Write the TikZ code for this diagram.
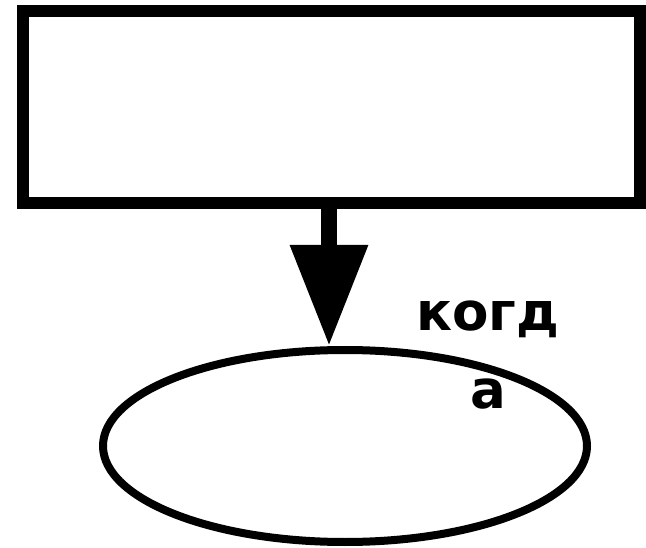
\documentclass[tikz,border=0pt]{standalone}
\usepackage{fontspec}
\newfontfamily\labelfont{DejaVu Sans}
\usetikzlibrary{shapes.geometric,arrows.meta}
\begin{document}
\begin{tikzpicture}[x=1pt,y=-1pt,
  boxstyle/.style={draw, line width=12pt, minimum width=617pt, minimum height=192pt, inner sep=0pt},
  ovalstyle/.style={draw, ellipse, line width=8pt, minimum width=484pt, minimum height=192pt, inner sep=0pt},
  flowarrow/.style={line width=16pt, -{Triangle[length=101pt,width=74pt]}},
  labelstyle/.style={font=\labelfont\bfseries\fontsize{53}{78}\selectfont, align=center, inner sep=0pt}]
\useasboundingbox (0,0) rectangle (646,548);
\node[boxstyle] (box) at (331.5,107) {};
\node[ovalstyle] (oval) at (345,446) {};
\draw[flowarrow] ([xshift=-2.5pt]box.south) -- ([xshift=-16pt]oval.north);
\node[labelstyle, anchor=base] (lbl) at (488,408) {когд\\а};
\end{tikzpicture}
\end{document}
